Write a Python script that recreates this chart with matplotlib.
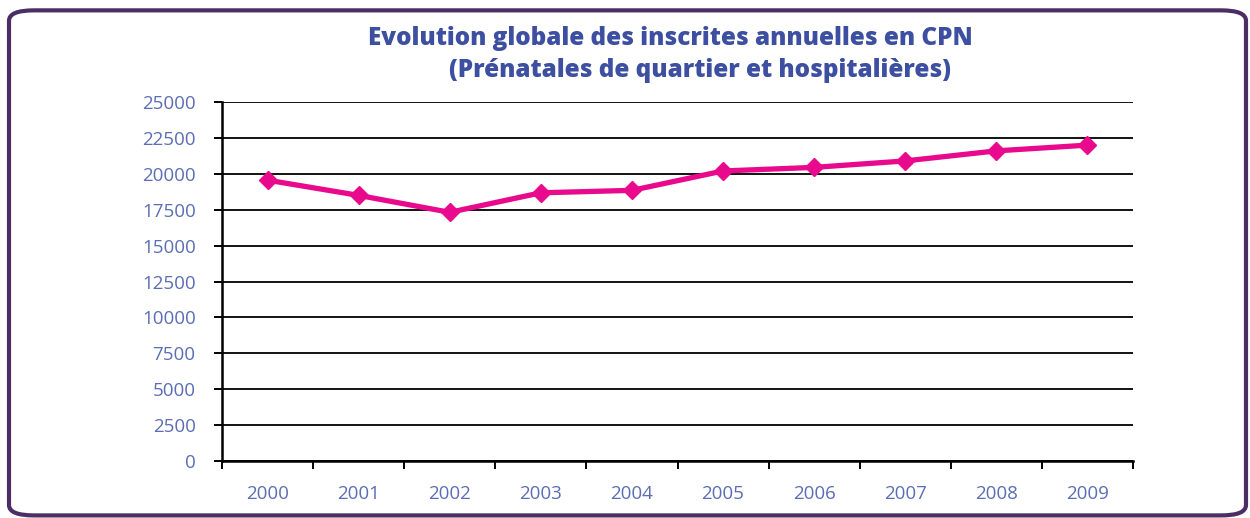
#!/usr/bin/env python3
import matplotlib
matplotlib.use("Agg")
import matplotlib.pyplot as plt
import numpy as np
from matplotlib.patches import FancyBboxPatch

annees = ["2000", "2001", "2002", "2003", "2004", "2005", "2006", "2007", "2008", "2009"]
inscrites = [19560, 18500, 17320, 18680, 18850, 20200, 20450, 20900, 21600, 22000]
yticks = list(range(0, 25001, 2500))

TITRE_COULEUR = "#3d4fa0"
TICK_COULEUR = "#5b6db4"
LIGNE_COULEUR = "#e8098d"

plt.rcParams["font.family"] = ["Open Sans", "DejaVu Sans"]

fig = plt.figure(figsize=(12.5, 5.18), dpi=100)
ax = fig.add_axes([0.1776, 0.110, 0.7288, 0.693])

x = np.arange(len(annees))
ax.plot(x, inscrites, color=LIGNE_COULEUR, linewidth=3.8, marker="D",
        markersize=9, markeredgecolor=LIGNE_COULEUR, zorder=3)

ax.set_xlim(-0.5, len(annees) - 0.5)
ax.set_ylim(0, 25000)

ax.set_yticks(yticks)
ax.set_yticklabels([str(v) for v in yticks])
ax.set_xticks(x)
ax.set_xticklabels(annees)
ax.set_xticks(np.arange(-0.5, len(annees), 1), minor=True)

ax.tick_params(axis="y", direction="out", length=6, width=1.4, color="black",
               labelcolor=TICK_COULEUR, labelsize=13.5, pad=13)
ax.tick_params(axis="x", which="major", length=0, labelcolor=TICK_COULEUR,
               labelsize=13.5, pad=17)
ax.tick_params(axis="x", which="minor", direction="out", length=6, width=1.4,
               color="black")

ax.grid(axis="y", color="black", linewidth=1.3)
ax.set_axisbelow(True)
for side in ["top", "right"]:
    ax.spines[side].set_visible(False)
for side in ["left", "bottom"]:
    ax.spines[side].set_linewidth(1.8)
    ax.spines[side].set_color("black")

fig.text(0.536, 0.925, "Evolution globale des inscrites annuelles en CPN",
         ha="center", va="center", fontsize=17.5, fontweight="heavy", color=TITRE_COULEUR)
fig.text(0.560, 0.863, "(Prénatales de quartier et hospitalières)",
         ha="center", va="center", fontsize=17.5, fontweight="heavy", color=TITRE_COULEUR)

# cadre arrondi autour de la figure
cadre = FancyBboxPatch((0.0072, 0.005), 0.9896, 0.975,
                       boxstyle="round,pad=0,rounding_size=0.02",
                       transform=fig.transFigure, facecolor="none",
                       edgecolor="#4b2e63", linewidth=3.0, zorder=0)
fig.patches.append(cadre)

fig.savefig("out.png", dpi=100)
